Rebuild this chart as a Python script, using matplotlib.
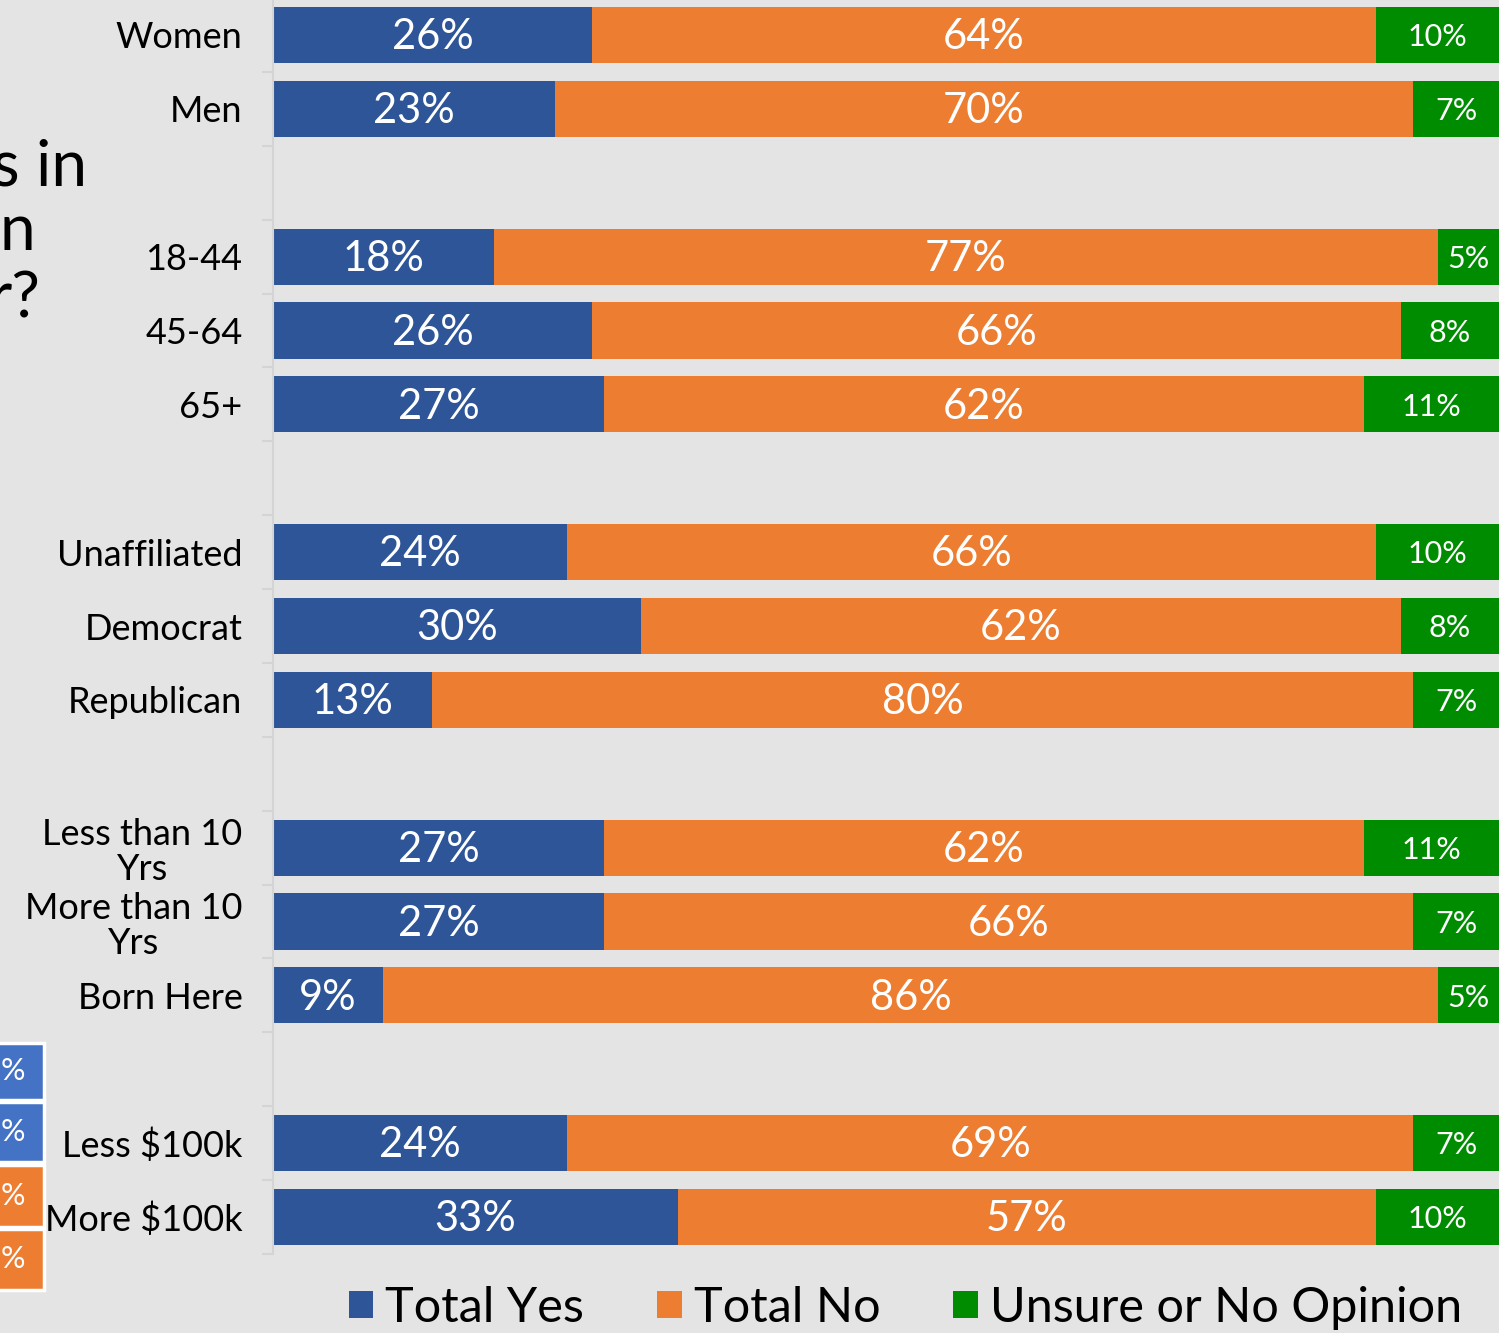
# -*- coding: utf-8 -*-

import numpy as np
import matplotlib.pyplot as plt
from matplotlib.patches import Rectangle

plt.rcParams['font.family'] = ['Lato', 'DejaVu Sans']

# categories (empty strings are the gaps between groups)
categories = ['Women', 'Men', '',
              '18-44', '45-64', '65+', '',
              'Unaffiliated', 'Democrat', 'Republican', '',
              'Less than 10\nYrs', 'More than 10\nYrs', 'Born Here', '',
              'Less $100k', 'More $100k']
total_yes = [26, 23, None, 18, 26, 27, None, 24, 30, 13, None, 27, 27, 9, None, 24, 33]
total_no = [64, 70, None, 77, 66, 62, None, 66, 62, 80, None, 62, 66, 86, None, 69, 57]
unsure = [10, 7, None, 5, 8, 11, None, 10, 8, 7, None, 11, 7, 5, None, 7, 10]
series_names = ['Total Yes', 'Total No', 'Unsure or No Opinion']

c_yes = '#2E5597'
c_no = '#ED7D31'
c_uns = '#008C00'
bg = '#E4E4E4'

yes = np.array([np.nan if v is None else v for v in total_yes], dtype=float)
no = np.array([np.nan if v is None else v for v in total_no], dtype=float)
uns = np.array([np.nan if v is None else v for v in unsure], dtype=float)
y = np.arange(len(categories))

fig = plt.figure(figsize=(14.99, 13.33), dpi=100)
fig.patch.set_facecolor(bg)
ax = fig.add_axes([273/1499, 79/1333, 1226/1499, 1256/1333])
ax.set_facecolor(bg)

h = 0.76
b1 = ax.barh(y, yes, height=h, color=c_yes, label=series_names[0])
b2 = ax.barh(y, no, left=yes, height=h, color=c_no, label=series_names[1])
b3 = ax.barh(y, uns, left=yes + no, height=h, color=c_uns, label=series_names[2])

# value labels, a touch below centre like the original
dy = 0.03
for i in range(len(categories)):
    if np.isnan(yes[i]):
        continue
    ax.text(yes[i] / 2, y[i] + dy, '%d%%' % yes[i], color='white', fontsize=30,
            ha='center', va='center')
    ax.text(yes[i] + no[i] / 2, y[i] + dy, '%d%%' % no[i], color='white', fontsize=30,
            ha='center', va='center')
    ax.text(yes[i] + no[i] + uns[i] / 2, y[i] + dy, '%d%%' % uns[i], color='white',
            fontsize=22, ha='center', va='center')

ax.set_xlim(0, 100)
ax.set_ylim(len(categories) - 0.5, -0.5)
ax.set_xticks([])
ax.set_yticks(y)
ax.set_yticklabels(categories, fontsize=26, linespacing=1.1)
for lab in ax.get_yticklabels():
    lab.set_multialignment('center')
ax.set_yticks(np.arange(-0.5, len(categories), 1), minor=True)
ax.tick_params(axis='y', which='major', length=0, pad=22)
ax.tick_params(axis='y', which='minor', length=8, color='#D4D4D4', width=1.5)
for s in ['top', 'right', 'bottom']:
    ax.spines[s].set_visible(False)
ax.spines['left'].set_color('#D4D4D4')
ax.spines['left'].set_linewidth(1.5)

fig.legend(handles=[b1, b2, b3], loc='center', bbox_to_anchor=(0.604, 0.019),
           ncol=3, frameon=False, fontsize=35, handlelength=0.5, handleheight=0.5,
           handletextpad=0.25, columnspacing=1.5, borderaxespad=0)

# cropped slide title on the left
fig.text(87/1499, 1 - 185/1333, 's in', fontsize=46, ha='right', va='baseline')
fig.text(35/1499, 1 - 250/1333, 'n', fontsize=46, ha='right', va='baseline')
fig.text(40/1499, 1 - 318/1333, 'r?', fontsize=46, ha='right', va='baseline')

# cropped table on the left
cells = [(1043, 1100, '#4472C4'), (1102, 1162, '#4472C4'),
         (1165, 1227, '#ED7D31'), (1229, 1290, '#ED7D31')]
for top, bot, col in cells:
    fig.patches.append(Rectangle((-10/1499, 1 - bot/1333), 54/1499, (bot - top)/1333,
                                 transform=fig.transFigure, facecolor=col,
                                 edgecolor='white', linewidth=2.5))
    fig.text(25/1499, 1 - (top + bot)/2/1333, '%', color='white', fontsize=22,
             ha='right', va='center')

fig.savefig('out.png', dpi=100, facecolor=bg)
